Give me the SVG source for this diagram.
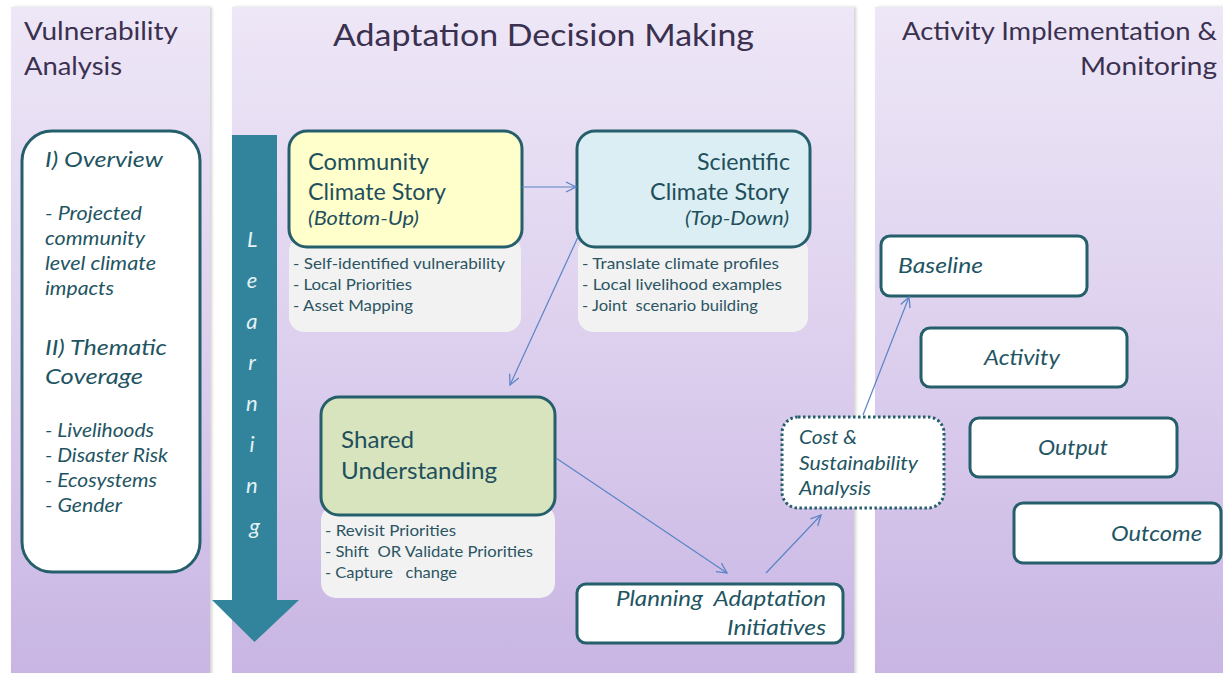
<svg xmlns="http://www.w3.org/2000/svg" width="1223" height="673" viewBox="0 0 1223 673">
  <defs>
    <linearGradient id="panelFill" x1="0" y1="0" x2="0" y2="1">
      <stop offset="0" stop-color="#eee7f7"/>
      <stop offset="0.5" stop-color="#ddd0ee"/>
      <stop offset="1" stop-color="#c8b5e3"/>
    </linearGradient>
    <filter id="panelShadow" x="-5%" y="-5%" width="110%" height="110%">
      <feDropShadow dx="2" dy="0" stdDeviation="1.5" flood-color="#000" flood-opacity="0.18"/>
    </filter>
    <marker id="openArrow" viewBox="0 0 12 12" refX="11" refY="6" markerWidth="12" markerHeight="12" markerUnits="userSpaceOnUse" orient="auto">
      <path d="M1,1 L11,6 L1,11" fill="none" stroke="#5b84c6" stroke-width="1.3"/>
    </marker>
    <style>
      text { font-family: Lato, "Liberation Sans", sans-serif; }
      .panel { fill: url(#panelFill); filter: url(#panelShadow); }
      .head { fill: #3a3150; }
      .box { stroke: #265f6c; stroke-width: 3; }
      .white { fill: #ffffff; }
      .note { fill: #f2f2f2; }
      .title { font-size: 23.5px; fill: #1f4f5c; }
      .sub { font-size: 20px; font-style: italic; fill: #1f4f5c; }
      .bullet { font-size: 16px; fill: #2b5563; }
      .ital { font-style: italic; fill: #1f5563; }
      .learn { font-style: italic; font-size: 22px; fill: #e4f1f5; }
      .pre { white-space: pre; }
      .conn { fill: none; stroke: #5b84c6; stroke-width: 1.2; marker-end: url(#openArrow); }
    </style>
  </defs>

  <rect width="1223" height="673" fill="#ffffff"/>

  <!-- three column panels -->
  <g id="panels">
    <rect class="panel" x="11" y="7" width="199" height="670"/>
    <rect class="panel" x="232" y="7" width="622" height="670"/>
    <rect class="panel" x="875" y="7" width="352" height="670"/>
  </g>

  <!-- column headings -->
  <g id="headings">
    <text class="head" x="24" y="40" font-size="25" textLength="154" lengthAdjust="spacingAndGlyphs">Vulnerability</text>
    <text class="head" x="24" y="75" font-size="25" textLength="98" lengthAdjust="spacingAndGlyphs">Analysis</text>
    <text class="head" x="333" y="46" font-size="31" textLength="421" lengthAdjust="spacingAndGlyphs">Adaptation Decision Making</text>
    <text class="head" x="902" y="40" font-size="25" textLength="315" lengthAdjust="spacingAndGlyphs">Activity Implementation &amp;</text>
    <text class="head" x="1080" y="75" font-size="25" textLength="137" lengthAdjust="spacingAndGlyphs">Monitoring</text>
  </g>

  <!-- learning arrow -->
  <g id="learning">
    <path d="M232,135 L277,135 L277,600 L299,600 L254.5,642 L212,600 L232,600 Z" fill="#31849b"/>
    <text class="learn" text-anchor="middle">
      <tspan x="254.5" y="247">L</tspan>
      <tspan x="254.5" y="288">e</tspan>
      <tspan x="254.5" y="329">a</tspan>
      <tspan x="254.5" y="370">r</tspan>
      <tspan x="254.5" y="411">n</tspan>
      <tspan x="254.5" y="452">i</tspan>
      <tspan x="254.5" y="493">n</tspan>
      <tspan x="254.5" y="534">g</tspan>
    </text>
  </g>

  <!-- vulnerability analysis box -->
  <g id="node-vulnerability">
    <rect class="box white" x="22" y="131" width="178" height="441" rx="30"/>
    <text class="ital" font-size="21" x="45" y="167" textLength="118" lengthAdjust="spacingAndGlyphs">I) Overview</text>
    <text class="ital" font-size="19" x="45" y="220" textLength="97" lengthAdjust="spacingAndGlyphs">- Projected</text>
    <text class="ital" font-size="19" x="45" y="245" textLength="100" lengthAdjust="spacingAndGlyphs">community</text>
    <text class="ital" font-size="19" x="45" y="270" textLength="111" lengthAdjust="spacingAndGlyphs">level climate</text>
    <text class="ital" font-size="19" x="45" y="295" textLength="69" lengthAdjust="spacingAndGlyphs">impacts</text>
    <text class="ital" font-size="21" x="45" y="355" textLength="122" lengthAdjust="spacingAndGlyphs">II) Thematic</text>
    <text class="ital" font-size="21" x="45" y="384" textLength="98" lengthAdjust="spacingAndGlyphs">Coverage</text>
    <text class="ital" font-size="19" x="45" y="437" textLength="109" lengthAdjust="spacingAndGlyphs">- Livelihoods</text>
    <text class="ital" font-size="19" x="45" y="462" textLength="123" lengthAdjust="spacingAndGlyphs">- Disaster Risk</text>
    <text class="ital" font-size="19" x="45" y="487" textLength="112" lengthAdjust="spacingAndGlyphs">- Ecosystems</text>
    <text class="ital" font-size="19" x="45" y="512" textLength="77" lengthAdjust="spacingAndGlyphs">- Gender</text>
  </g>

  <!-- community climate story -->
  <g id="node-community">
    <rect class="note" x="289" y="236" width="232" height="96" rx="15"/>
    <rect class="box" fill="#ffffcc" x="289" y="131" width="233" height="116" rx="18"/>
    <text class="title" x="308" y="170" textLength="121" lengthAdjust="spacingAndGlyphs">Community</text>
    <text class="title" x="308" y="200" textLength="138" lengthAdjust="spacingAndGlyphs">Climate Story</text>
    <text class="sub" x="308" y="225" textLength="111" lengthAdjust="spacingAndGlyphs">(Bottom-Up)</text>
    <text class="bullet" x="293" y="269" textLength="212" lengthAdjust="spacingAndGlyphs">- Self-identified vulnerability</text>
    <text class="bullet" x="293" y="290" textLength="119" lengthAdjust="spacingAndGlyphs">- Local Priorities</text>
    <text class="bullet" x="293" y="311" textLength="120" lengthAdjust="spacingAndGlyphs">- Asset Mapping</text>
  </g>

  <!-- scientific climate story -->
  <g id="node-scientific">
    <rect class="note" x="578" y="236" width="230" height="96" rx="15"/>
    <rect class="box" fill="#daeef3" x="577" y="131" width="233" height="116" rx="18"/>
    <text class="title" x="697" y="170" textLength="93" lengthAdjust="spacingAndGlyphs">Scientific</text>
    <text class="title" x="650" y="200" textLength="139" lengthAdjust="spacingAndGlyphs">Climate Story</text>
    <text class="sub" x="685" y="225" textLength="104" lengthAdjust="spacingAndGlyphs">(Top-Down)</text>
    <text class="bullet" x="582" y="269" textLength="197" lengthAdjust="spacingAndGlyphs">- Translate climate profiles</text>
    <text class="bullet" x="582" y="290" textLength="200" lengthAdjust="spacingAndGlyphs">- Local livelihood examples</text>
    <text class="bullet pre" x="582" y="311" textLength="176" lengthAdjust="spacingAndGlyphs">- Joint  scenario building</text>
  </g>

  <!-- shared understanding -->
  <g id="node-shared">
    <rect class="note" x="321" y="505" width="234" height="93" rx="15"/>
    <rect class="box" fill="#d7e4bd" x="321" y="397" width="234" height="118" rx="18"/>
    <text class="title" x="341" y="448" textLength="73" lengthAdjust="spacingAndGlyphs">Shared</text>
    <text class="title" x="341" y="479" textLength="156" lengthAdjust="spacingAndGlyphs">Understanding</text>
    <text class="bullet" x="325" y="536" textLength="131" lengthAdjust="spacingAndGlyphs">- Revisit Priorities</text>
    <text class="bullet pre" x="325" y="557" textLength="208" lengthAdjust="spacingAndGlyphs">- Shift  OR Validate Priorities</text>
    <text class="bullet pre" x="325" y="578" textLength="132" lengthAdjust="spacingAndGlyphs">- Capture   change</text>
  </g>

  <!-- planning adaptation initiatives -->
  <g id="node-planning">
    <rect class="box white" x="577" y="584" width="266" height="59" rx="9"/>
    <text class="ital pre" font-size="22" x="616" y="606" textLength="210" lengthAdjust="spacingAndGlyphs">Planning  Adaptation</text>
    <text class="ital" font-size="22" x="727" y="635" textLength="99" lengthAdjust="spacingAndGlyphs">Initiatives</text>
  </g>

  <!-- cost and sustainability analysis -->
  <g id="node-cost">
    <rect class="white" x="782" y="417" width="162" height="91" rx="16" stroke="#265f6c" stroke-width="3" stroke-dasharray="2.5 2.5"/>
    <text class="ital" font-size="19" x="799" y="444" textLength="58" lengthAdjust="spacingAndGlyphs">Cost &amp;</text>
    <text class="ital" font-size="19" x="799" y="470" textLength="119" lengthAdjust="spacingAndGlyphs">Sustainability</text>
    <text class="ital" font-size="19" x="799" y="495" textLength="72" lengthAdjust="spacingAndGlyphs">Analysis</text>
  </g>

  <!-- monitoring stages -->
  <g id="node-baseline">
    <rect class="box white" x="881" y="236" width="206" height="60" rx="9"/>
    <text class="ital" font-size="21" x="898" y="273" textLength="85" lengthAdjust="spacingAndGlyphs">Baseline</text>
  </g>
  <g id="node-activity">
    <rect class="box white" x="921" y="328" width="206" height="59" rx="9"/>
    <text class="ital" font-size="21" x="984" y="365" textLength="76" lengthAdjust="spacingAndGlyphs">Activity</text>
  </g>
  <g id="node-output">
    <rect class="box white" x="970" y="418" width="207" height="59" rx="9"/>
    <text class="ital" font-size="21" x="1038" y="455" textLength="70" lengthAdjust="spacingAndGlyphs">Output</text>
  </g>
  <g id="node-outcome">
    <rect class="box white" x="1014" y="503" width="207" height="60" rx="9"/>
    <text class="ital" font-size="21" x="1111" y="541" textLength="91" lengthAdjust="spacingAndGlyphs">Outcome</text>
  </g>

  <!-- connectors -->
  <g id="connectors">
    <line class="conn" x1="522" y1="187" x2="576" y2="187"/>
    <line class="conn" x1="578" y1="237" x2="510" y2="385"/>
    <line class="conn" x1="556" y1="458" x2="727" y2="573"/>
    <line class="conn" x1="766" y1="573" x2="821" y2="515"/>
    <line class="conn" x1="863" y1="415" x2="909" y2="297"/>
  </g>
</svg>
